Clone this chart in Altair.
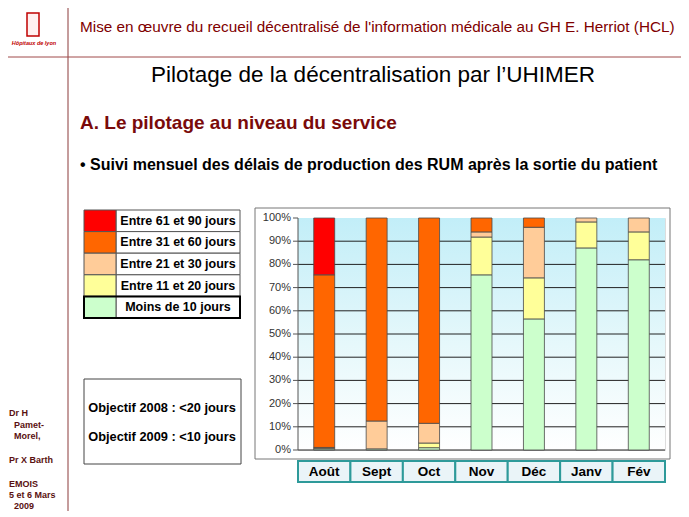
import altair as alt
import pandas as pd

# ---------------- data ----------------
months = ["Août", "Sept", "Oct", "Nov", "Déc", "Janv", "Fév"]
cats = ["Moins de 10 jours", "Entre 11 et 20 jours", "Entre 21 et 30 jours",
        "Entre 31 et 60 jours", "Entre 61 et 90 jours"]
moins_10 = [0.5, 0.5, 1.0, 75.5, 56.5, 87.1, 82.0]
j11_20 = [0.3, 0.0, 2.0, 16.3, 17.7, 11.2, 12.0]
j21_30 = [0.3, 12.0, 8.5, 2.2, 21.8, 1.7, 6.0]
j31_60 = [74.4, 87.5, 88.5, 6.0, 4.0, 0.0, 0.0]
j61_90 = [24.5, 0.0, 0.0, 0.0, 0.0, 0.0, 0.0]
y_ticks = [0, 10, 20, 30, 40, 50, 60, 70, 80, 90, 100]
grid_vals = [0, 10, 20, 30, 40, 50, 60, 70, 80, 90]
colors = ["#ccffcc", "#ffff99", "#ffcc99", "#ff6600", "#ff0000"]

header = "Mise en œuvre du recueil décentralisé de l'information médicale au GH E. Herriot (HCL)"
title = "Pilotage de la décentralisation par l\u2019UHIMER"
section = "A. Le pilotage au niveau du service"
bullet = "\u2022 Suivi mensuel des délais de production des RUM après la sortie du patient"
objectifs = ["Objectif 2008 : <20 jours", "Objectif 2009 : <10 jours"]
side_lines = ["Dr H", "Pamet-", "Morel,", "Pr  X Barth", "EMOIS", "5 et 6  Mars", "2009"]

series = [moins_10, j11_20, j21_30, j31_60, j61_90]
rows = []
for ci, (cat, vals) in enumerate(zip(cats, series)):
    for m, v in zip(months, vals):
        if v > 0:
            rows.append({"month": m, "cat": cat, "value": v, "rank": ci})
df = pd.DataFrame(rows)

legend_order = cats[::-1]
legend_df = pd.DataFrame({"cat": legend_order, "i": list(range(len(legend_order)))})

# ---------------- layout ----------------
FONT = "Liberation Sans"
OX, OY = 298, 218          # plot origin on page
W, H = 367, 232
one = pd.DataFrame({"a": [0]})


def px(X):
    return X - OX


def py(Y):
    return Y - OY


def txt(s, X, Y, size, color="black", weight="normal", align="left", font=FONT, italic=False):
    kw = dict(text=s, fontSize=size, fontWeight=weight, color=color, align=align,
              baseline="middle", font=font)
    if italic:
        kw["fontStyle"] = "italic"
    return alt.Chart(one).mark_text(**kw).encode(x=alt.value(px(X)), y=alt.value(py(Y)))


def box(X1, Y1, X2, Y2, fill="white", stroke="#555", sw=1.0):
    kw = dict(stroke=stroke, strokeWidth=sw)
    if fill is None:
        kw["fillOpacity"] = 0
        kw["fill"] = "white"
    else:
        kw["fill"] = fill
    return alt.Chart(one).mark_rect(**kw).encode(
        x=alt.value(px(X1)), x2=alt.value(px(X2)), y=alt.value(py(Y1)), y2=alt.value(py(Y2)))


def rule(X1, Y1, X2, Y2, color="#8b3030", sw=1.0):
    return alt.Chart(one).mark_rule(color=color, strokeWidth=sw).encode(
        x=alt.value(px(X1)), x2=alt.value(px(X2)), y=alt.value(py(Y1)), y2=alt.value(py(Y2)))


color_scale = alt.Scale(domain=cats, range=colors)
x_enc = alt.X("month:N", sort=months, scale=alt.Scale(paddingInner=0, paddingOuter=0), axis=None)
y_scale = alt.Scale(domain=[0, 100], nice=False)

# chart frame (outline only)
frame = box(255, 208, 670, 459, fill=None, stroke="#777", sw=1)

# gradient background
bg = alt.Chart(one).mark_rect(
    fill=alt.Gradient(gradient="linear",
                      stops=[alt.GradientStop(color="#c2eef8", offset=0),
                             alt.GradientStop(color="#e6f8fb", offset=0.55),
                             alt.GradientStop(color="#ffffff", offset=1)],
                      x1=0, x2=0, y1=0, y2=1)
).encode(x=alt.value(0), x2=alt.value(W), y=alt.value(0), y2=alt.value(H))

grid = alt.Chart(pd.DataFrame({"v": grid_vals})).mark_rule(color="#222222", strokeWidth=1).encode(
    y=alt.Y("v:Q", scale=y_scale, axis=None), x=alt.value(0), x2=alt.value(W))

# y axis drawn through the y scale
tick_df = pd.DataFrame({"v": y_ticks})
y_ticks_marks = alt.Chart(tick_df).mark_rule(color="#555", strokeWidth=1).encode(
    y=alt.Y("v:Q", scale=y_scale, axis=None), x=alt.value(-5), x2=alt.value(0))
y_labels = alt.Chart(tick_df).transform_calculate(lab="datum.v + '%'").mark_text(
    font=FONT, fontSize=11, color="#333", align="right", baseline="middle").encode(
    y=alt.Y("v:Q", scale=y_scale, axis=None), x=alt.value(-7), text="lab:N")
y_domain = alt.Chart(one).mark_rule(color="#555", strokeWidth=1).encode(
    x=alt.value(0), y=alt.value(0), y2=alt.value(H))

bars = alt.Chart(df).mark_bar(width=alt.RelativeBandSize(0.4), stroke="#4a4a4a", strokeWidth=0.8).encode(
    x=x_enc,
    y=alt.Y("value:Q", stack="zero", scale=y_scale, axis=None),
    color=alt.Color("cat:N", scale=color_scale, legend=None),
    order=alt.Order("rank:Q"),
)

month_boxes = alt.Chart(pd.DataFrame({"month": months})).mark_rect(
    fill="#eaf4f8", stroke="#2e9a9a", strokeWidth=2).encode(
    x=x_enc, y=alt.value(py(461)), y2=alt.value(py(482)))
month_text = alt.Chart(pd.DataFrame({"month": months})).mark_text(
    font=FONT, fontSize=13.5, fontWeight="bold", color="black", baseline="middle").encode(
    x=x_enc, y=alt.value(py(471.5)), text="month:N")

# legend table
RH = 21.6
LY = 210
leg_base = alt.Chart(legend_df).transform_calculate(
    y0=f"{py(LY)} + datum.i * {RH}", y1=f"{py(LY)} + (datum.i + 1) * {RH}")
leg_sw = leg_base.mark_rect(stroke="#555", strokeWidth=1).encode(
    x=alt.value(px(84)), x2=alt.value(px(116)),
    y=alt.Y("y0:Q", scale=None, axis=None), y2="y1:Q",
    color=alt.Color("cat:N", scale=color_scale, legend=None))
leg_cell = leg_base.mark_rect(fill="white", stroke="#555", strokeWidth=1).encode(
    x=alt.value(px(116)), x2=alt.value(px(240)),
    y=alt.Y("y0:Q", scale=None, axis=None), y2="y1:Q")
leg_txt = leg_base.transform_calculate(ym=f"{py(LY)} + (datum.i + 0.5) * {RH}").mark_text(
    font=FONT, fontSize=12.5, fontWeight="bold", color="black", baseline="middle").encode(
    x=alt.value(px(178)), y=alt.Y("ym:Q", scale=None, axis=None), text="cat:N")
last_y0 = LY + (len(legend_order) - 1) * RH
leg_bold = box(84, last_y0, 240, LY + 5 * RH, fill=None, stroke="black", sw=2)

# objective box
obj_box = box(84, 379, 241, 464, fill="white", stroke="#444", sw=1)
obj_txt = [txt(s, 162, yy, 12.8, weight="bold", align="center") for s, yy in zip(objectifs, [408, 437])]

# slide decorations
deco = [
    rule(68, 0, 68, 517, color="#8b3a3a", sw=1),
    rule(0, 57, 689, 57, color="#a04a4a", sw=1),
    box(27, 13, 39, 36, fill="#fff0f0", stroke="#c00000", sw=1.5),
    txt("Hôpitaux de lyon", 34, 43, 5.5, color="#c00000", weight="bold", align="center", italic=True),
    txt(header, 80, 27, 15.3, color="#800000"),
    txt(title, 373, 75, 22.5, color="black", align="center"),
    txt(section, 80, 123, 19, color="#7a0a0a", weight="bold"),
    txt(bullet, 80, 165, 16, color="black", weight="bold"),
]
side_pos = [(9, 413), (14, 424.5), (14, 436), (9, 460), (9, 484), (9, 495), (14, 505.5)]
side = [txt(s, X, Y, 9, color="#5a1010", weight="bold") for s, (X, Y) in zip(side_lines, side_pos)]

chart = alt.layer(
    frame, bg, grid, bars, y_ticks_marks, y_domain, y_labels, month_boxes, month_text,
    leg_cell, leg_sw, leg_txt, leg_bold, obj_box, *obj_txt, *deco, *side
).properties(
    width=W, height=H,
    padding={"left": OX - 8, "top": OY - 8, "right": 673 - (OX - 8) - W, "bottom": 61},
    autosize=alt.AutoSizeParams(type="none"),
).configure_view(stroke=None).configure(font=FONT)

chart.save("out.html", embed_options={"renderer": "svg", "actions": False})
